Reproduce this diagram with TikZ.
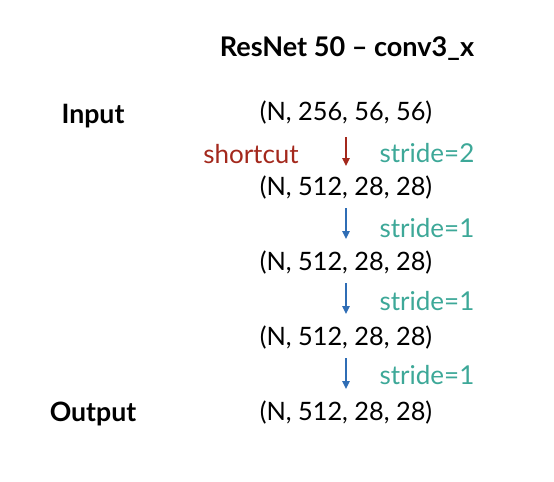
\documentclass[tikz,border=0pt]{standalone}
\usepackage{fontspec}
\setmainfont{Lato}
\usetikzlibrary{arrows.meta}
\definecolor{cred}{HTML}{A3281C}
\definecolor{cblue}{HTML}{2F6DB5}
\definecolor{cteal}{HTML}{3DA898}
\tikzset{
  dimtext/.style={font=\fontsize{19}{22}\selectfont, text=black, inner sep=0pt},
  lbl/.style={font=\fontsize{20}{24}\selectfont\bfseries, inner sep=0pt},
  note/.style={font=\fontsize{19.5}{23}\selectfont, inner sep=0pt},
  flow/.style={-{Triangle[length=6pt,width=5.5pt]}, line width=1.1pt}
}
\begin{document}
\begin{tikzpicture}[x=0.75pt,y=-0.75pt]
\useasboundingbox (0,0) rectangle (554,482);
\node[lbl, font=\fontsize{20.3}{24}\selectfont\bfseries] (title) at (347,49) {ResNet 50 -- conv3\_x};
\node[lbl] (in) at (93,116) {Input};
\node[lbl] (out) at (93,414) {Output};
\node[dimtext] (s0) at (346,113) {(N, 256, 56, 56)};
\node[dimtext] (s1) at (346,188) {(N, 512, 28, 28)};
\node[dimtext] (s2) at (346,263) {(N, 512, 28, 28)};
\node[dimtext] (s3) at (346,338) {(N, 512, 28, 28)};
\node[dimtext] (s4) at (346,413) {(N, 512, 28, 28)};
\coordinate (a0) at (346,137); \coordinate (b0) at (346,166);
\coordinate (a1) at (346,208); \coordinate (b1) at (346,239);
\coordinate (a2) at (346,283); \coordinate (b2) at (346,314);
\coordinate (a3) at (346,358); \coordinate (b3) at (346,389);
\draw[flow, cred] (a0) -- (b0);
\draw[flow, cblue] (a1) -- (b1);
\draw[flow, cblue] (a2) -- (b2);
\draw[flow, cblue] (a3) -- (b3);
\node[note, text=cred] (sc) at (251,154) {shortcut};
\node[note, text=cteal] (st0) at (427,153) {stride=2};
\node[note, text=cteal] (st1) at (427,228) {stride=1};
\node[note, text=cteal] (st2) at (427,301) {stride=1};
\node[note, text=cteal] (st3) at (427,375) {stride=1};
\end{tikzpicture}
\end{document}
